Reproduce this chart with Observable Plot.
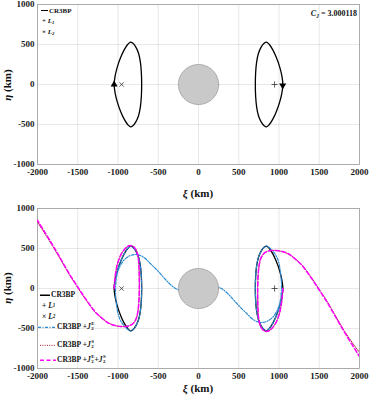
<!DOCTYPE html>
<html>
<head>
<meta charset="utf-8">
<script src="https://cdn.jsdelivr.net/npm/d3@7"></script>
<script src="https://cdn.jsdelivr.net/npm/@observablehq/plot@0.6"></script>
<style>
  html, body { margin: 0; padding: 0; background: #fff; }
  #wrap { position: relative; width: 371px; height: 396px; overflow: hidden; font-family: 'Liberation Serif', 'Times New Roman', serif; font-weight: bold; color: #111; }
  .panel { position: absolute; left: 0; }
  .ov { position: absolute; white-space: nowrap; line-height: 1; }
  .lab { font-size: 11px; transform: translate(-50%, -50%); }
  .ylab { font-size: 11px; transform: translate(-50%, -50%) rotate(-90deg); }
  .leg { font-size: 7px; transform: translateY(-50%); }
  .legb { font-size: 7.5px; transform: translateY(-50%); display: flex; align-items: center; }
  .st { display: inline-block; vertical-align: middle; line-height: 0.95; font-size: 0.66em; margin-left: 0.5px; }
  .st span { display: block; }
  sub { font-size: 0.68em; vertical-align: -0.3em; }
  svg.sw { display: inline-block; vertical-align: middle; margin-right: 1px; }
</style>
</head>
<body>
<div id="wrap">
  <div id="top" class="panel" style="top:0"></div>
  <div id="bot" class="panel" style="top:198px"></div>

  <!-- axis labels -->
  <div class="ov ylab" style="left:7px; top:85px;"><i>η</i> (km)</div>
  <div class="ov lab" style="left:198px; top:193px;"><i>ξ</i> (km)</div>
  <div class="ov ylab" style="left:7px; top:288px;"><i>η</i> (km)</div>
  <div class="ov lab" style="left:198px; top:388px;"><i>ξ</i> (km)</div>

  <!-- Jacobi constant -->
  <div class="ov" style="right:14px; top:15px; transform: translateY(-50%); font-size:8px;"><i>C</i><sub><i>J</i></sub> = 3.000118</div>

  <!-- top legend -->
  <div class="ov leg" style="left:41px; top:11px;"><svg class="sw" width="7" height="4"><line x1="0" y1="2" x2="7" y2="2" stroke="#000" stroke-width="1.2"/></svg>CR3BP</div>
  <div class="ov leg" style="left:42px; top:22px;">+ <i>L</i><sub><i>1</i></sub></div>
  <div class="ov leg" style="left:42px; top:33px;">× <i>L</i><sub><i>2</i></sub></div>

  <!-- bottom legend -->
  <div class="ov legb" style="left:40px; top:295px;"><svg class="sw" width="10" height="4"><line x1="0" y1="2" x2="10" y2="2" stroke="#000" stroke-width="1.4"/></svg>CR3BP</div>
  <div class="ov legb" style="left:42px; top:306px;">+&nbsp;<i>L</i><sub><i>1</i></sub></div>
  <div class="ov legb" style="left:42px; top:317px;">×&nbsp;<i>L</i><sub><i>2</i></sub></div>
  <div class="ov legb" style="left:38px; top:327px;"><svg class="sw" width="18" height="4"><line x1="0" y1="2" x2="18" y2="2" stroke="#2a8ad2" stroke-width="1.2" stroke-dasharray="3,1.5,1,1.5"/></svg>CR3BP + <i>J</i><span class="st"><span>E</span><span>2</span></span></div>
  <div class="ov legb" style="left:40px; top:345px;"><svg class="sw" width="16" height="4"><line x1="0" y1="2" x2="16" y2="2" stroke="#a2142f" stroke-width="1" stroke-dasharray="1,1.3"/></svg>CR3BP + <i>J</i><span class="st"><span>S</span><span>2</span></span></div>
  <div class="ov legb" style="left:40px; top:360px;"><svg class="sw" width="16" height="4"><line x1="0" y1="2" x2="16" y2="2" stroke="#ff00ff" stroke-width="1.5" stroke-dasharray="4,2.5"/></svg>CR3BP + <i>J</i><span class="st"><span>E</span><span>2</span></span> + <i>J</i><span class="st"><span>S</span><span>2</span></span></div>
</div>
<script>
// ---------- tick labels ----------
const xTicks = [-2000, -1500, -1000, -500, 0, 500, 1000, 1500, 2000];
const yTicks = [-1000, -500, 0, 500, 1000];

// ---------- CR3BP Lyapunov orbits (closed) ----------
const crL2Xi  = [-1048,-1035,-1008,-970,-925,-880,-845,-815,-780,-745,-722,-710,-706,-710,-722,-745,-780,-815,-845,-880,-925,-970,-1008,-1035];
const crL2Eta = [0,110,220,330,430,500,530,515,470,390,280,150,0,-150,-280,-390,-470,-515,-530,-500,-430,-330,-220,-110];
const crL1Xi  = [1048,1035,1008,970,925,880,845,815,780,745,722,710,706,710,722,745,780,815,845,880,925,970,1008,1035];
const crL1Eta = [0,-110,-220,-330,-430,-500,-530,-515,-470,-390,-280,-150,0,150,280,390,470,515,530,500,430,330,220,110];

// ---------- CR3BP + J2E (blue dash-dot) ----------
const j2eL2Xi  = [-1048,-1035,-1008,-970,-925,-880,-845,-815,-780,-745,-722,-710,-706,-710,-722,-745,-780,-815,-845,-880,-925,-969,-998,-1014,-1026,-1031,-1026,-1010,-978,-930,-862,-795,-740,-690,-640,-596,-510,-430,-355,-285,-200];
const j2eL2Eta = [0,110,220,330,430,500,530,515,470,390,280,150,0,-150,-280,-390,-470,-515,-530,-510,-465,-400,-320,-233,-130,-25,80,183,272,350,405,425,418,395,355,310,225,135,55,0,-35];
const j2eL1Xi  = [1048,1035,1008,970,925,880,845,815,780,745,722,710,706,710,722,745,780,815,845,880,925,969,998,1014,1026,1031,1026,1010,978,930,862,795,740,690,640,596,510,430,355,285,200];
const j2eL1Eta = [0,-110,-220,-330,-430,-500,-530,-515,-470,-390,-280,-150,0,150,280,390,470,515,530,510,465,400,320,233,130,25,-80,-183,-272,-350,-405,-425,-418,-395,-355,-310,-225,-135,-55,0,35];

// ---------- CR3BP + J2S (red dotted) ----------
const j2sL2Xi  = [-1048,-1040,-1025,-1000,-960,-915,-875,-845,-805,-772,-750,-740,-736,-735,-740,-752,-775,-810,-850,-900,-969,-1040,-1114,-1200,-1280,-1360,-1445,-1520,-1600,-1735,-1840,-2000];
const j2sL2Eta = [0,110,220,330,430,495,530,537,522,475,395,280,150,0,-150,-280,-380,-435,-462,-474,-475,-462,-432,-372,-300,-196,-72,42,165,400,575,830];
const j2sL1Xi  = [1048,1040,1025,1000,960,915,875,845,805,772,750,740,736,735,740,752,775,810,850,900,969,1040,1114,1200,1280,1360,1445,1520,1600,1735,1840,2000];
const j2sL1Eta = [0,-110,-220,-330,-430,-495,-530,-537,-522,-475,-395,-280,-150,0,150,280,380,435,462,474,475,462,432,372,300,196,72,-42,-165,-400,-575,-800];

// ---------- CR3BP + J2E + J2S (magenta dashed) ----------
const bothL2Xi  = [-1048,-1040,-1025,-1000,-960,-915,-875,-845,-805,-772,-750,-740,-736,-735,-740,-752,-775,-810,-850,-900,-969,-1040,-1114,-1200,-1280,-1360,-1445,-1520,-1600,-1735,-1840,-2000];
const bothL2Eta = [0,110,220,330,430,495,530,537,522,475,395,280,150,0,-150,-280,-380,-435,-462,-474,-475,-462,-435,-370,-296,-190,-66,50,175,412,590,850];
const bothL1Xi  = [1048,1040,1025,1000,960,915,875,845,805,772,750,740,736,735,740,752,775,810,850,900,969,1040,1114,1200,1280,1360,1445,1520,1600,1735,1840,2000];
const bothL1Eta = [0,-110,-220,-330,-430,-495,-530,-537,-522,-475,-395,-280,-150,0,150,280,380,435,462,474,475,462,435,370,296,190,66,-50,-175,-412,-590,-850];

// ---------- Libration points, start arrows, primary body ----------
const libXi = [945, -955];
const libEta = [0, 0];
const libName = ["L1", "L2"];
const arrowXi = [-1048, 1046];
const arrowEta = [0, -12];
const bodyXi = 0, bodyEta = 0, bodyRadius = 250;

// ---------- helpers ----------
const rows = (xi, eta) => xi.map((x, i) => ({x, y: eta[i]}));
const bodyRing = d3.range(0, 73).map(k => {
  const a = k / 72 * 2 * Math.PI;
  return {x: bodyXi + bodyRadius * Math.cos(a), y: bodyEta + bodyRadius * Math.sin(a)};
});
const triDown = {
  draw(ctx, size) {
    const y = -Math.sqrt(size / (Math.sqrt(3) * 3));
    ctx.moveTo(0, -y * 2);
    ctx.lineTo(-Math.sqrt(3) * y, y);
    ctx.lineTo(Math.sqrt(3) * y, y);
    ctx.closePath();
  }
};
const libRows = libXi.map((x, i) => ({x, y: libEta[i], n: libName[i]}));

const common = (mt, mb) => ({
  width: 371, height: 198,
  marginLeft: 37, marginRight: 12, marginTop: mt, marginBottom: mb,
  x: {domain: [-2000, 2000], ticks: xTicks, tickFormat: d => String(d), label: null, tickSize: 0, tickPadding: 4, grid: true},
  y: {domain: [-1000, 1000], ticks: yTicks, tickFormat: d => String(d), label: null, tickSize: 0, tickPadding: 3, grid: true},
  style: {fontFamily: "'Liberation Serif', 'Times New Roman', serif", fontWeight: "bold", fontSize: "9px", background: "transparent", color: "#1a1a1a", overflow: "visible"}
});

const bodyMark = Plot.line(bodyRing, {x: "x", y: "y", curve: "linear-closed", fill: "#c9c9c9", stroke: "#8c8c8c", strokeWidth: 0.6});
const libMarks = [
  Plot.dot(libRows.filter(d => d.n === "L1"), {x: "x", y: "y", symbol: "plus", r: 2.1, stroke: "#333", strokeWidth: 0.8}),
  Plot.dot(libRows.filter(d => d.n === "L2"), {x: "x", y: "y", symbol: "times", r: 2.1, stroke: "#333", strokeWidth: 0.8})
];

const topPlot = Plot.plot({
  ...common(4, 34),
  marks: [
    Plot.frame({stroke: "#9c9c9c", strokeWidth: 0.8}),
    Plot.line(rows(crL2Xi, crL2Eta), {x: "x", y: "y", curve: "catmull-rom-closed", stroke: "#000", strokeWidth: 1.3}),
    Plot.line(rows(crL1Xi, crL1Eta), {x: "x", y: "y", curve: "catmull-rom-closed", stroke: "#000", strokeWidth: 1.3}),
    bodyMark,
    ...libMarks,
    Plot.dot([{x: arrowXi[0], y: arrowEta[0]}], {x: "x", y: "y", symbol: "triangle", r: 2.6, fill: "#000", stroke: "none"}),
    Plot.dot([{x: arrowXi[1], y: arrowEta[1]}], {x: "x", y: "y", symbol: triDown, r: 2.6, fill: "#000", stroke: "none"})
  ]
});
document.getElementById("top").appendChild(topPlot);

const botPlot = Plot.plot({
  ...common(10, 28),
  marks: [
    Plot.frame({stroke: "#9c9c9c", strokeWidth: 0.8}),
    Plot.line(rows(crL2Xi, crL2Eta), {x: "x", y: "y", curve: "catmull-rom-closed", stroke: "#000", strokeWidth: 1.3}),
    Plot.line(rows(crL1Xi, crL1Eta), {x: "x", y: "y", curve: "catmull-rom-closed", stroke: "#000", strokeWidth: 1.3}),
    Plot.line(rows(j2eL2Xi, j2eL2Eta), {x: "x", y: "y", curve: "catmull-rom", stroke: "#2a8ad2", strokeWidth: 1.2, strokeDasharray: "3,1.5,1,1.5"}),
    Plot.line(rows(j2eL1Xi, j2eL1Eta), {x: "x", y: "y", curve: "catmull-rom", stroke: "#2a8ad2", strokeWidth: 1.2, strokeDasharray: "3,1.5,1,1.5"}),
    Plot.line(rows(j2sL2Xi, j2sL2Eta), {x: "x", y: "y", curve: "catmull-rom", stroke: "#a2142f", strokeWidth: 1, strokeDasharray: "1,1.3", clip: true}),
    Plot.line(rows(j2sL1Xi, j2sL1Eta), {x: "x", y: "y", curve: "catmull-rom", stroke: "#a2142f", strokeWidth: 1, strokeDasharray: "1,1.3", clip: true}),
    Plot.line(rows(bothL2Xi, bothL2Eta), {x: "x", y: "y", curve: "catmull-rom", stroke: "#ff00ff", strokeWidth: 1.5, strokeDasharray: "4,2.5", clip: true}),
    Plot.line(rows(bothL1Xi, bothL1Eta), {x: "x", y: "y", curve: "catmull-rom", stroke: "#ff00ff", strokeWidth: 1.5, strokeDasharray: "4,2.5", clip: true}),
    bodyMark,
    ...libMarks
  ]
});
document.getElementById("bot").appendChild(botPlot);
</script>
</body>
</html>
